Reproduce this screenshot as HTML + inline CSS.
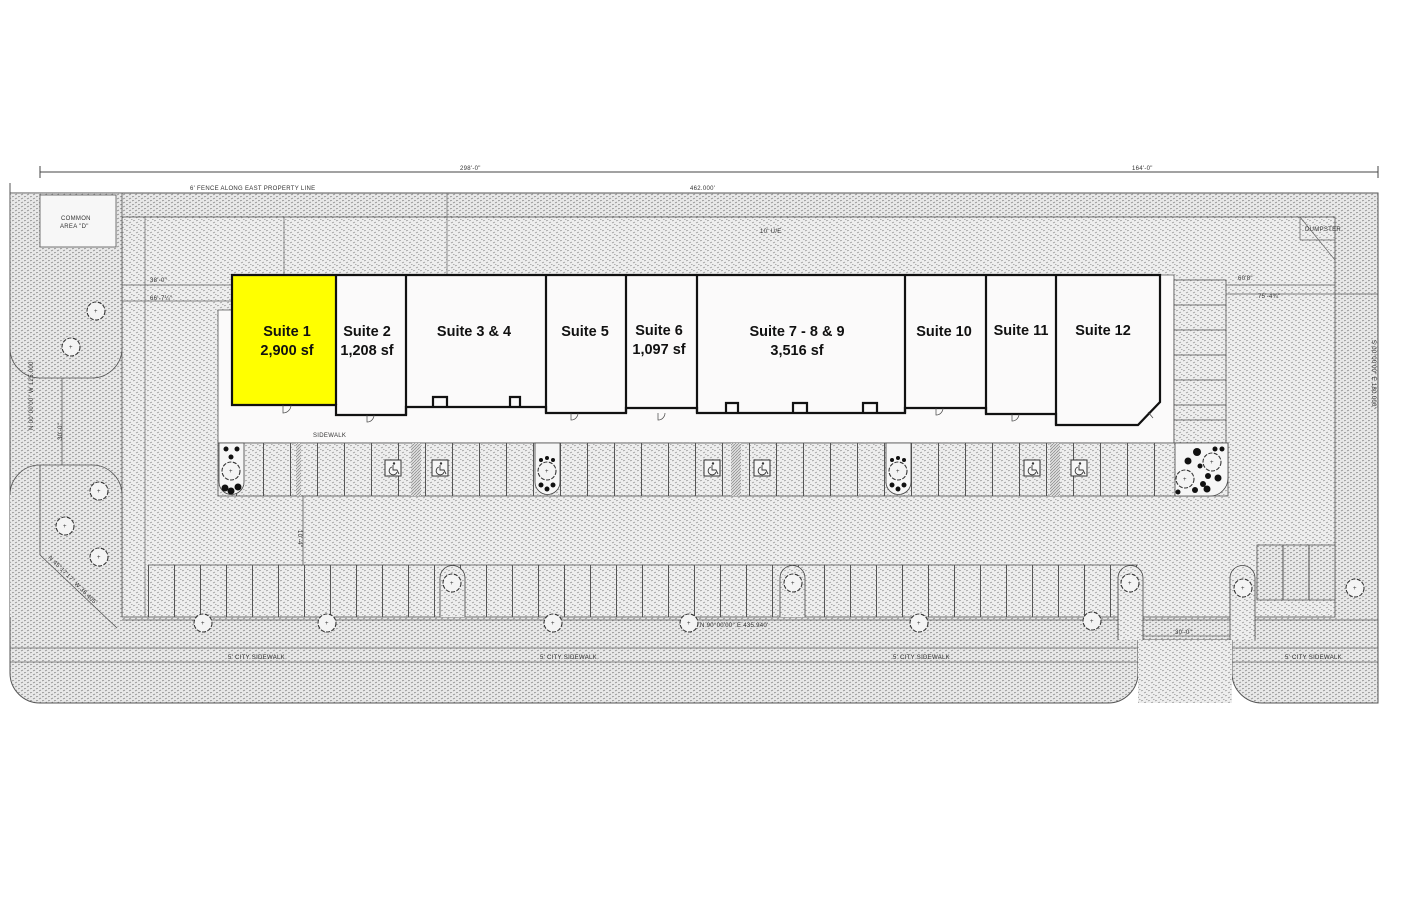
<!DOCTYPE html>
<html><head><meta charset="utf-8"><style>
html,body{margin:0;padding:0;background:#fff;}
svg{display:block}
.s{font-family:"Liberation Sans",sans-serif;font-weight:bold;font-size:14.5px;fill:#111;text-anchor:middle}
.t{font-family:"Liberation Sans",sans-serif;font-size:6px;fill:#333;letter-spacing:0.3px}
</style></head><body>
<svg width="1422" height="900" viewBox="0 0 1422 900" xmlns="http://www.w3.org/2000/svg">
<defs>
<pattern id="st" width="7" height="5" patternUnits="userSpaceOnUse">
<rect width="7" height="5" fill="#eeeeee"/>
<path d="M0 1 l2 -1 M3 3 l2 -1 M5 4.5 l1.5 0" stroke="#9a9a9a" stroke-width="0.8"/>
</pattern>
<pattern id="st2" width="6" height="4" patternUnits="userSpaceOnUse">
<rect width="6" height="4" fill="#e8e8e8"/>
<path d="M0 1 l2 -1 M3 3 l2 -1" stroke="#8c8c8c" stroke-width="0.9"/>
</pattern>
<pattern id="stall" width="27" height="60" patternUnits="userSpaceOnUse" x="236">
<line x1="0.5" y1="0" x2="0.5" y2="60" stroke="#555" stroke-width="1"/>
</pattern>
<pattern id="stall2" width="26" height="60" patternUnits="userSpaceOnUse" x="148">
<line x1="0.5" y1="0" x2="0.5" y2="60" stroke="#555" stroke-width="1"/>
</pattern>
<pattern id="hatch" width="3" height="3" patternUnits="userSpaceOnUse">
<rect width="3" height="3" fill="#ddd"/><path d="M0 3 L3 0" stroke="#777" stroke-width="0.6"/>
</pattern>
<g id="tree"><circle r="9" fill="#f4f4f4" stroke="#333" stroke-width="1.1" stroke-dasharray="4 1.5"/><text x="-2" y="2" font-size="6" fill="#333" font-family="Liberation Sans">+</text></g>
<g id="hc"><rect x="-8" y="-8" width="16" height="16" fill="#f6f6f6" stroke="#333" stroke-width="1"/><circle cx="1" cy="-4.5" r="1.2" fill="#333"/><path d="M0 -3 v5 h4 l2 4 M-1 -1 a4 4 0 1 0 5 5" fill="none" stroke="#333" stroke-width="0.9"/></g>
</defs>
<rect width="1422" height="900" fill="#fff"/>
<line x1="40" y1="172" x2="1378" y2="172" stroke="#444" stroke-width="1"/>
<line x1="40" y1="166" x2="40" y2="178" stroke="#444"/>
<line x1="1378" y1="166" x2="1378" y2="178" stroke="#444"/>
<text class="t" x="460" y="170">298'-0"</text>
<text class="t" x="1132" y="170">164'-0"</text>
<text class="t" x="190" y="190">6' FENCE ALONG EAST PROPERTY LINE</text>
<text class="t" x="690" y="190">462.000'</text>
<path d="M10 193 H1378 V703 H1262 a30 30 0 0 1 -30 -30 V640 H1138 V673 a30 30 0 0 1 -30 30 H40 a30 30 0 0 1 -30 -30 Z" fill="url(#st2)" stroke="#555" stroke-width="1"/>
<rect x="1138" y="640" width="94" height="63" fill="url(#st)"/>
<line x1="10" y1="183" x2="10" y2="193" stroke="#555"/>
<rect x="122" y="217" width="1213" height="400" fill="url(#st)" stroke="#555" stroke-width="0.8"/>
<line x1="145" y1="217" x2="145" y2="617" stroke="#666" stroke-width="0.7"/>
<line x1="122" y1="285" x2="232" y2="285" stroke="#666" stroke-width="0.7"/>
<line x1="10" y1="301" x2="232" y2="301" stroke="#666" stroke-width="0.7"/>
<line x1="284" y1="217" x2="284" y2="275" stroke="#666" stroke-width="0.7"/>
<line x1="447" y1="193" x2="447" y2="275" stroke="#666" stroke-width="0.7"/>
<line x1="1160" y1="285" x2="1335" y2="285" stroke="#666" stroke-width="0.7"/>
<line x1="1160" y1="294" x2="1378" y2="294" stroke="#666" stroke-width="0.7"/>
<line x1="1300" y1="217" x2="1335" y2="260" stroke="#666" stroke-width="0.7"/>
<line x1="1300" y1="217" x2="1300" y2="240" stroke="#666" stroke-width="0.7"/>
<line x1="1300" y1="240" x2="1335" y2="240" stroke="#666" stroke-width="0.7"/>
<text class="t" x="1305" y="231" font-size="4.5">DUMPSTER</text>
<text class="t" x="760" y="233">10' U/E</text>
<text class="t" x="150" y="282">38'-0"</text>
<text class="t" x="150" y="300">66'-7¼"</text>
<text class="t" x="1238" y="280">60'8"</text>
<text class="t" x="1258" y="298">75'-4¾"</text>
<line x1="10" y1="648" x2="1138" y2="648" stroke="#666" stroke-width="0.8"/>
<line x1="10" y1="662" x2="1138" y2="662" stroke="#666" stroke-width="0.8"/>
<line x1="1232" y1="648" x2="1378" y2="648" stroke="#666" stroke-width="0.8"/>
<line x1="1232" y1="662" x2="1378" y2="662" stroke="#666" stroke-width="0.8"/>
<line x1="122" y1="620" x2="1378" y2="620" stroke="#555" stroke-width="0.8"/>
<text class="t" x="228" y="659">5' CITY SIDEWALK</text>
<text class="t" x="540" y="659">5' CITY SIDEWALK</text>
<text class="t" x="893" y="659">5' CITY SIDEWALK</text>
<text class="t" x="1285" y="659">5' CITY SIDEWALK</text>
<text class="t" x="700" y="627">N 90°00'00" E 435.940'</text>
<path d="M10 193 H122 V348 a30 30 0 0 1 -30 30 H40 a30 30 0 0 1 -30 -30 Z" fill="url(#st2)" stroke="#555" stroke-width="0.8"/>
<rect x="40" y="195" width="76" height="52" fill="#f7f7f7" stroke="#555" stroke-width="0.8"/>
<text class="t" x="61" y="220">COMMON</text><text class="t" x="60" y="228">AREA "D"</text>
<line x1="62" y1="378" x2="62" y2="465" stroke="#555" stroke-width="0.8"/>
<path d="M10 495 a30 30 0 0 1 30 -30 H92 a30 30 0 0 1 30 30 V617 H10 Z" fill="url(#st2)" stroke="none"/>
<path d="M10 495 a30 30 0 0 1 30 -30 H92 a30 30 0 0 1 30 30 V617" fill="none" stroke="#555" stroke-width="0.8"/>
<line x1="40" y1="555" x2="117" y2="628" stroke="#555" stroke-width="0.8"/>
<line x1="40" y1="465" x2="40" y2="555" stroke="#555" stroke-width="0.8"/>
<text class="t" transform="translate(33,430) rotate(-90)">N 00°00'00" W 125.000'</text>
<text class="t" transform="translate(62,440) rotate(-90)">30'-0"</text>
<text class="t" transform="translate(48,558) rotate(45)">N 45°17'17" W 36.405'</text>
<text class="t" transform="translate(1372,340) rotate(90)">S 00°00'00" E 180.000'</text>
<use href="#tree" x="96" y="311"/><use href="#tree" x="71" y="347"/>
<use href="#tree" x="99" y="491"/><use href="#tree" x="65" y="526"/><use href="#tree" x="99" y="557"/>
<line x1="1138" y1="636" x2="1232" y2="636" stroke="#666" stroke-width="0.7"/>
<text class="t" x="1175" y="634">30'-0"</text>
<path d="M218 310 H232 V275 H1174 V443 H218 Z" fill="#fbfafa" stroke="#555" stroke-width="0.8"/>
<text class="t" x="313" y="437">SIDEWALK</text>
<rect x="1174" y="280" width="52" height="163" fill="url(#st)" stroke="#555" stroke-width="0.8"/>
<g stroke="#555" stroke-width="0.8">
<line x1="1174" y1="305" x2="1226" y2="305"/><line x1="1174" y1="330" x2="1226" y2="330"/><line x1="1174" y1="355" x2="1226" y2="355"/><line x1="1174" y1="380" x2="1226" y2="380"/><line x1="1174" y1="405" x2="1226" y2="405"/><line x1="1174" y1="420" x2="1226" y2="420"/></g>
<rect x="218" y="443" width="1010" height="53" fill="url(#st)" stroke="#555" stroke-width="0.8"/>
<rect x="236" y="443" width="940" height="53" fill="url(#stall)"/>
<rect x="296" y="443" width="5" height="53" fill="url(#hatch)"/>
<rect x="411" y="443" width="10" height="53" fill="url(#hatch)"/>
<rect x="731" y="443" width="10" height="53" fill="url(#hatch)"/>
<rect x="1050" y="443" width="10" height="53" fill="url(#hatch)"/>
<use href="#hc" x="393" y="468"/><use href="#hc" x="440" y="468"/>
<use href="#hc" x="712" y="468"/><use href="#hc" x="762" y="468"/>
<use href="#hc" x="1032" y="468"/><use href="#hc" x="1079" y="468"/>
<g stroke="#444" stroke-width="0.8">
<path d="M219 443 H244 V482 a12.5 12.5 0 0 1 -25 0 Z" fill="#f6f6f6"/>
<path d="M535 443 H560 V482 a12.5 12.5 0 0 1 -25 0 Z" fill="#f6f6f6"/>
<path d="M886 443 H911 V482 a12.5 12.5 0 0 1 -25 0 Z" fill="#f6f6f6"/>
<path d="M1175 443 H1228 V478 a18 18 0 0 1 -18 18 H1175 Z" fill="#f6f6f6"/>
</g>
<g fill="#111">
<circle cx="225" cy="488" r="3.5"/><circle cx="231" cy="491" r="3.5"/><circle cx="238" cy="487" r="3.5"/><circle cx="226" cy="449" r="2.5"/><circle cx="237" cy="449" r="2.5"/><circle cx="231" cy="457" r="2.5"/>
<circle cx="541" cy="485" r="2.5"/><circle cx="547" cy="489" r="2.5"/><circle cx="553" cy="485" r="2.5"/><circle cx="541" cy="460" r="2"/><circle cx="547" cy="458" r="2"/><circle cx="553" cy="460" r="2"/>
<circle cx="892" cy="485" r="2.5"/><circle cx="898" cy="489" r="2.5"/><circle cx="904" cy="485" r="2.5"/><circle cx="892" cy="460" r="2"/><circle cx="898" cy="458" r="2"/><circle cx="904" cy="460" r="2"/>
<circle cx="1197" cy="452" r="4"/><circle cx="1188" cy="461" r="3.5"/><circle cx="1200" cy="466" r="2.5"/><circle cx="1208" cy="476" r="3"/><circle cx="1218" cy="478" r="3.5"/><circle cx="1203" cy="484" r="3"/><circle cx="1207" cy="489" r="3.5"/><circle cx="1195" cy="490" r="3"/><circle cx="1215" cy="449" r="2.5"/><circle cx="1222" cy="449" r="2.5"/><circle cx="1178" cy="492" r="2.5"/>
</g>
<use href="#tree" x="231" y="471"/><use href="#tree" x="547" y="471"/><use href="#tree" x="898" y="471"/>
<use href="#tree" x="1185" y="479"/><use href="#tree" x="1212" y="462"/>
<rect x="148" y="565" width="990" height="52" fill="url(#stall2)"/>
<line x1="148" y1="565" x2="1138" y2="565" stroke="#555" stroke-width="0.8"/>
<rect x="1257" y="545" width="78" height="55" fill="url(#st2)" stroke="#555" stroke-width="0.8"/>
<line x1="1283" y1="545" x2="1283" y2="600" stroke="#555"/><line x1="1309" y1="545" x2="1309" y2="600" stroke="#555"/>
<g fill="url(#st)" stroke="#444" stroke-width="0.8">
<path d="M440 617 V578 a12.5 12.5 0 0 1 25 0 V617"/>
<path d="M780 617 V578 a12.5 12.5 0 0 1 25 0 V617"/>
<path d="M1118 640 V578 a12.5 12.5 0 0 1 25 0 V640"/>
<path d="M1230 640 V578 a12.5 12.5 0 0 1 25 0 V640"/>
</g>
<use href="#tree" x="452" y="583"/><use href="#tree" x="793" y="583"/><use href="#tree" x="1130" y="583"/><use href="#tree" x="1243" y="588"/>
<use href="#tree" x="1355" y="588"/>
<use href="#tree" x="203" y="623"/><use href="#tree" x="327" y="623"/><use href="#tree" x="553" y="623"/><use href="#tree" x="689" y="623"/><use href="#tree" x="919" y="623"/><use href="#tree" x="1092" y="621"/>
<line x1="303" y1="496" x2="303" y2="565" stroke="#555" stroke-width="0.8"/>
<text class="t" transform="translate(298,530) rotate(90)">10'-4"</text>
<rect x="232" y="275" width="104" height="130" fill="#ffff00"/>
<g fill="none" stroke="#111" stroke-width="2.2">
<path d="M232 405 V275 H1160 V402 L1138 425 H1056 V414 H986 V408 H905 V413 H697 V408 H626 V413 H546 V407 H406 V415 H336 V405 Z"/>
<path d="M336 275 V405 M406 275 V415 M546 275 V413 M626 275 V413 M697 275 V413 M905 275 V413 M986 275 V414 M1056 275 V425"/>
<path d="M433 407 V397 H447 V407 M510 407 V397 H520 V407 M726 413 V403 H738 V413 M793 413 V403 H807 V413 M863 413 V403 H877 V413"/>
</g>
<g fill="none" stroke="#444" stroke-width="0.7">
<path d="M283 405 v8 a8 8 0 0 0 8 -8"/><path d="M367 415 v7 a7 7 0 0 0 7 -7"/><path d="M571 413 v7 a7 7 0 0 0 7 -7"/><path d="M658 413 v7 a7 7 0 0 0 7 -7"/><path d="M936 408 v7 a7 7 0 0 0 7 -7"/><path d="M1012 414 v7 a7 7 0 0 0 7 -7"/><path d="M1148 412 l5 6"/>
</g>
<text class="s" x="287" y="336">Suite 1</text><text class="s" x="287" y="355">2,900 sf</text>
<text class="s" x="367" y="336">Suite 2</text><text class="s" x="367" y="355">1,208 sf</text>
<text class="s" x="474" y="336">Suite 3 &amp; 4</text>
<text class="s" x="585" y="336">Suite 5</text>
<text class="s" x="659" y="335">Suite 6</text><text class="s" x="659" y="354">1,097 sf</text>
<text class="s" x="797" y="336">Suite 7 - 8 &amp; 9</text><text class="s" x="797" y="355">3,516 sf</text>
<text class="s" x="944" y="336">Suite 10</text>
<text class="s" x="1021" y="335">Suite 11</text>
<text class="s" x="1103" y="335">Suite 12</text>
</svg>
</body></html>
